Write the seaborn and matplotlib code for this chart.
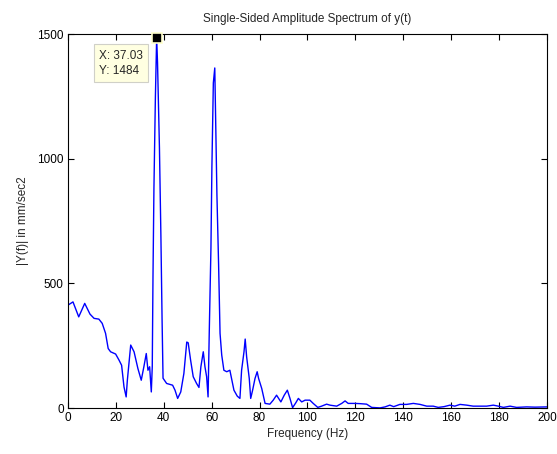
#
# Single-sided amplitude spectrum of y(t), MATLAB-style figure with a data tip
# on the main peak.
#
import numpy as np
import pandas as pd
import matplotlib
matplotlib.use("Agg")
import matplotlib.pyplot as plt
import seaborn as sns

sns.set_style("ticks")
plt.rcParams['font.family'] = ['Liberation Sans', 'DejaVu Sans']

# values
freq = [0.0, 2.1, 4.5, 7.0, 9.2, 10.9, 12.9, 14.3, 15.7, 16.8, 17.8, 19.9, 21.3,
        22.4, 23.4, 24.3, 24.8, 26.2, 27.6, 29.2, 30.6, 31.7, 32.7, 33.4, 34.1,
        34.8, 35.2, 35.5, 35.9, 36.5, 37.03, 37.4, 38.2, 38.8, 39.3, 39.7, 41.2,
        43.7, 44.7, 45.8, 47.1, 48.4, 49.6, 50.2, 51.2, 52.3, 53.7, 54.7, 55.5,
        56.5, 57.2, 57.9, 58.5, 59.0, 59.7, 60.1, 60.7, 61.3, 61.7, 62.2, 62.9,
        63.5, 64.2, 65.1, 66.3, 67.6, 68.3, 69.3, 70.7, 71.8, 72.5, 73.5, 74.0,
        74.6, 75.7, 76.3, 77.1, 78.1, 79.0, 79.6, 80.9, 82.3, 84.3, 85.7, 87.1,
        88.9, 90.3, 91.6, 92.7, 93.8, 95.1, 96.2, 97.6, 99.0, 101.0, 102.4, 104.3,
        105.9, 108.0, 109.4, 112.2, 114.3, 115.7, 117.0, 119.8, 122.0, 124.7,
        126.8, 130.3, 132.4, 134.4, 136.0, 138.6, 141.4, 144.2, 147.0, 149.8,
        152.5, 154.6, 157.0, 159.5, 161.5, 163.7, 166.5, 169.2, 172.0, 174.8,
        177.6, 179.7, 181.8, 184.6, 187.3, 189.5, 191.5, 195.0, 200.0]
amp = [413, 426, 366, 420, 377, 360, 357, 340, 300, 239, 226, 217, 193,
       172, 85, 45, 112, 253, 226, 159, 112, 166, 219, 152, 166,
       65, 166, 525, 882, 1243, 1484, 1384, 1043, 694, 353, 120, 99,
       92, 72, 39, 65, 139, 265, 262, 193, 126, 99, 83, 166,
       226, 166, 126, 45, 306, 642, 967, 1304, 1364, 1135, 854, 574,
       300, 213, 152, 146, 152, 119, 72, 48, 39, 152, 226, 277,
       206, 119, 39, 72, 119, 146, 119, 79, 19, 16, 32, 52,
       25, 52, 72, 39, 2, 21, 39, 25, 32, 32, 19, 3,
       8, 16, 12, 8, 19, 29, 19, 19, 18, 16,
       3, 1, 5, 12, 6, 15, 15, 19, 15, 8,
       8, 3, 6, 12, 8, 15, 12, 8, 8, 8,
       12, 8, 3, 8, 3, 4, 5, 4, 5]

tip_x = 37.03
tip_y = 1484

df = pd.DataFrame({"f": freq, "A": amp})

fig = plt.figure(figsize=(5.57, 4.54), dpi=100)
ax = fig.add_axes([0.122, 0.101, 0.860, 0.824])

sns.lineplot(data=df, x="f", y="A", estimator=None, sort=False,
             color="#0000ff", linewidth=1.0, ax=ax)

ax.set_xlim(0, 200)
ax.set_ylim(0, 1500)
ax.set_xticks(np.arange(0, 201, 20))
ax.set_yticks([0, 500, 1000, 1500])
ax.tick_params(direction="in", top=True, right=True, length=4, width=0.8,
               labelsize=8.5, colors="black", pad=3)
for s in ax.spines.values():
    s.set_linewidth(0.8)
    s.set_color("black")

ax.set_title("Single-Sided Amplitude Spectrum of y(t)", fontsize=8.5, pad=9)
ax.set_xlabel("Frequency (Hz)", fontsize=8.5, labelpad=3)
ax.set_ylabel("|Y(f)| in mm/sec2", fontsize=8.5, labelpad=6)

# data tip
ax.plot([tip_x], [tip_y], marker="s", markersize=6.5, color="black",
        markeredgecolor="#ffffcc", markeredgewidth=1.2, clip_on=False, zorder=5)
ax.text(12.9, 1438, "X: %.2f\nY: %d" % (tip_x, tip_y), fontsize=8.5,
        ha="left", va="top", linespacing=1.4, zorder=6,
        bbox=dict(boxstyle="square,pad=0.45", fc="#ffffe1", ec="#d0d0c8", lw=0.8))

plt.savefig("out.png", dpi=100)
